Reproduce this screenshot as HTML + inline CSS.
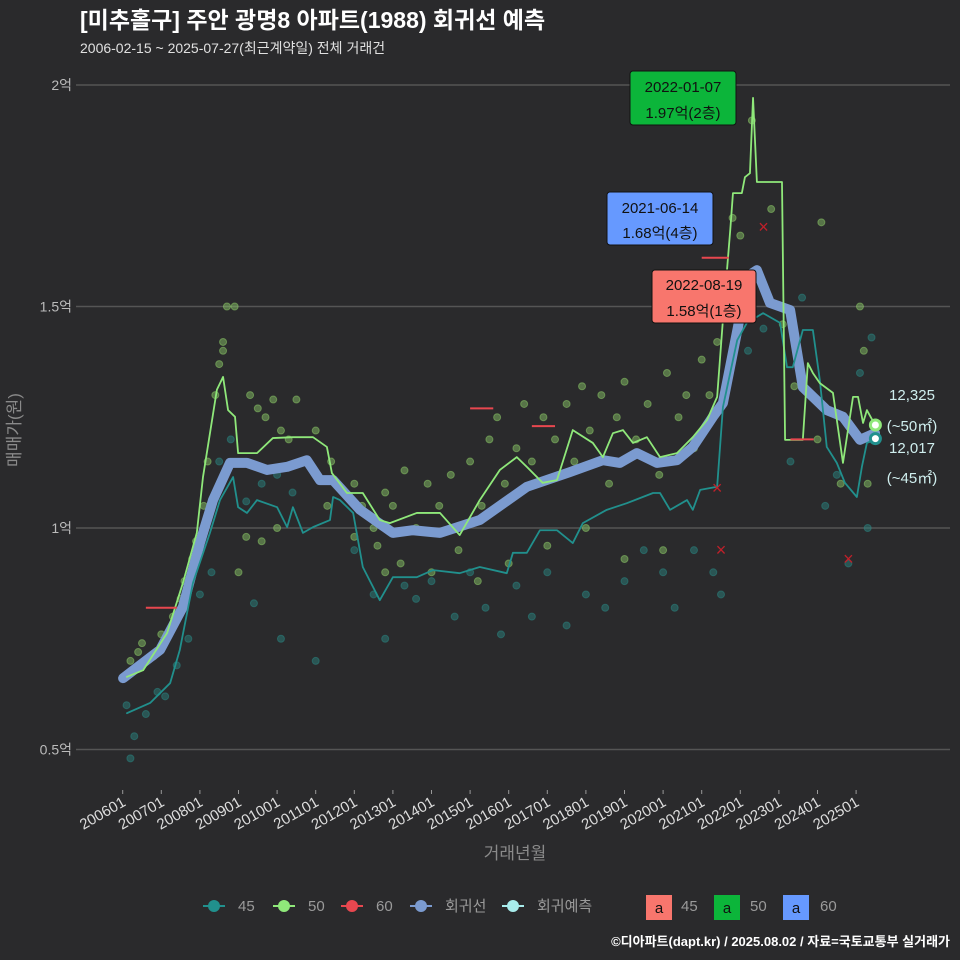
<!DOCTYPE html>
<html><head><meta charset="utf-8">
<style>
html,body{margin:0;padding:0;background:#2a2a2c;overflow:hidden;width:960px;height:960px;}
svg{display:block;}
svg text{font-family:"Liberation Sans","Noto Sans CJK KR",sans-serif;}
</style></head>
<body>
<svg id="chart" width="960" height="960" viewBox="0 0 960 960" xmlns="http://www.w3.org/2000/svg">
<rect width="960" height="960" fill="#2a2a2c"/>
<text x="80" y="28" fill="#ffffff" font-size="23" font-weight="bold">[미추홀구] 주안 광명8 아파트(1988) 회귀선 예측</text>
<text x="80" y="53" fill="#e0e0e0" font-size="14">2006-02-15 ~ 2025-07-27(최근계약일) 전체 거래건</text>
<g id="grid"></g>
<g id="xaxis"></g>
<g id="marks"></g>
<text x="20" y="430" fill="#8a8a8a" font-size="17" transform="rotate(-90 20 430)" text-anchor="middle">매매가(원)</text>
<text x="515" y="859" fill="#8a8a8a" font-size="17" text-anchor="middle">거래년월</text>

<g>
<rect x="630" y="71" width="106" height="54" rx="3" fill="#0cb53a" stroke="#111"/>
<text x="683" y="92" font-size="15" text-anchor="middle" fill="#111">2022-01-07</text>
<text x="683" y="118" font-size="15" text-anchor="middle" fill="#111">1.97억(2층)</text>
</g>
<g>
<rect x="607" y="192" width="106" height="53" rx="3" fill="#6699ff" stroke="#111"/>
<text x="660" y="213" font-size="15" text-anchor="middle" fill="#111">2021-06-14</text>
<text x="660" y="238" font-size="15" text-anchor="middle" fill="#111">1.68억(4층)</text>
</g>
<g>
<rect x="652" y="270" width="104" height="53" rx="3" fill="#f8766d" stroke="#111"/>
<text x="704" y="290" font-size="15" text-anchor="middle" fill="#111">2022-08-19</text>
<text x="704" y="316" font-size="15" text-anchor="middle" fill="#111">1.58억(1층)</text>
</g>
<g fill="#cfeeee" font-size="15" text-anchor="middle">
<text x="912" y="400">12,325</text>
<text x="912" y="431">(~50㎡)</text>
<text x="912" y="453">12,017</text>
<text x="912" y="483">(~45㎡)</text>
</g>

<g font-size="15" fill="#9a9a9a">
<g><line x1="203" y1="906" x2="225" y2="906" stroke="#21908d" stroke-width="2"/><circle cx="214" cy="906" r="6" fill="#21908d"/><text x="238" y="911">45</text></g>
<g><line x1="273" y1="906" x2="295" y2="906" stroke="#8fe87a" stroke-width="2"/><circle cx="284" cy="906" r="6" fill="#8fe87a"/><text x="308" y="911">50</text></g>
<g><line x1="341" y1="906" x2="363" y2="906" stroke="#e8474f" stroke-width="2"/><circle cx="352" cy="906" r="6" fill="#e8474f"/><text x="376" y="911">60</text></g>
<g><line x1="410" y1="906" x2="432" y2="906" stroke="#7b9bd0" stroke-width="2"/><circle cx="421" cy="906" r="6" fill="#7b9bd0"/><text x="445" y="911">회귀선</text></g>
<g><line x1="502" y1="906" x2="524" y2="906" stroke="#a8ecec" stroke-width="2"/><circle cx="513" cy="906" r="6" fill="#a8ecec"/><text x="537" y="911">회귀예측</text></g>
<g><rect x="646" y="895" width="26" height="25" fill="#f8766d"/><text x="659" y="913" fill="#111" text-anchor="middle">a</text><text x="681" y="911">45</text></g>
<g><rect x="714" y="895" width="26" height="25" fill="#0cb53a"/><text x="727" y="913" fill="#111" text-anchor="middle">a</text><text x="750" y="911">50</text></g>
<g><rect x="783" y="895" width="26" height="25" fill="#6699ff"/><text x="796" y="913" fill="#111" text-anchor="middle">a</text><text x="820" y="911">60</text></g>
</g>
<text x="950" y="946" fill="#ffffff" font-size="13" font-weight="bold" text-anchor="end">©디아파트(dapt.kr) / 2025.08.02 / 자료=국토교통부 실거래가</text>
</svg>
<script>
// ---- data ----
const yTicks = [0.5, 1, 1.5, 2];
const yTickLabels = ["0.5억", "1억", "1.5억", "2억"];
const xTickYears = [2006,2007,2008,2009,2010,2011,2012,2013,2014,2015,2016,2017,2018,2019,2020,2021,2022,2023,2024,2025];
const xTickLabels = ["200601","200701","200801","200901","201001","201101","201201","201301","201401","201501","201601","201701","201801","201901","202001","202101","202201","202301","202401","202501"];

const line50X = [2006.11,2006.53,2007.15,2007.56,2007.92,2008.08,2008.44,2008.60,2008.73,2008.91,2008.99,2009.22,2009.48,2009.89,2010.41,2010.93,2011.29,2011.42,2011.81,2012.22,2012.66,2012.92,2013.62,2014.22,2014.73,2015.25,2015.77,2016.21,2016.47,2016.88,2017.25,2017.66,2018.18,2018.44,2018.70,2018.96,2019.22,2019.58,2019.92,2020.36,2020.77,2021.14,2021.40,2021.55,2021.74,2021.81,2022.04,2022.12,2022.25,2022.33,2022.43,2023.08,2023.16,2023.62,2023.75,2023.88,2024.06,2024.40,2024.66,2024.92,2025.05,2025.18,2025.28,2025.49];
const line50Y = [0.664,0.679,0.763,0.876,0.989,1.115,1.312,1.341,1.266,1.251,1.169,1.169,1.169,1.203,1.205,1.205,1.183,1.124,1.079,1.079,1.018,1.011,1.034,1.034,0.984,1.063,1.131,1.160,1.138,1.102,1.108,1.221,1.192,1.160,1.214,1.221,1.192,1.205,1.160,1.169,1.205,1.244,1.296,1.470,1.673,1.756,1.756,1.792,1.801,1.971,1.781,1.781,1.199,1.199,1.372,1.350,1.327,1.305,1.147,1.296,1.296,1.237,1.266,1.233];

const line45X = [2006.11,2006.71,2007.23,2007.48,2007.82,2008.26,2008.52,2008.86,2008.99,2009.22,2009.48,2010.00,2010.26,2010.41,2010.67,2010.93,2011.37,2011.45,2011.63,2011.97,2012.22,2012.66,2013.00,2013.62,2014.04,2014.73,2015.25,2015.95,2016.11,2016.47,2016.81,2017.25,2017.66,2017.92,2018.54,2019.06,2019.74,2019.92,2020.18,2020.62,2020.77,2020.96,2021.40,2021.55,2021.92,2022.17,2022.59,2023.03,2023.21,2023.36,2023.62,2023.88,2024.06,2024.24,2024.50,2024.71,2025.02,2025.15,2025.28,2025.49];
const line45Y = [0.582,0.605,0.650,0.725,0.876,0.989,1.063,1.115,1.047,1.034,1.063,1.047,1.002,1.047,0.989,1.002,1.018,1.070,1.063,1.034,0.912,0.837,0.889,0.889,0.905,0.898,0.912,0.898,0.944,0.944,0.995,0.995,0.966,1.011,1.041,1.056,1.079,1.079,1.041,1.063,1.041,1.086,1.093,1.273,1.424,1.463,1.485,1.463,1.363,1.363,1.447,1.447,1.334,1.183,1.147,1.102,1.070,1.138,1.192,1.199];

const regX = [2006.01,2006.97,2007.56,2008.00,2008.34,2008.78,2009.22,2009.74,2010.26,2010.77,2011.11,2011.45,2012.15,2013.00,2013.52,2014.22,2015.25,2016.47,2017.58,2018.44,2018.88,2019.32,2019.84,2020.36,2020.77,2021.29,2021.55,2021.94,2022.17,2022.43,2022.77,2023.29,2023.62,2024.24,2024.66,2025.10,2025.49];
const regY = [0.661,0.725,0.822,0.966,1.063,1.147,1.147,1.131,1.138,1.153,1.108,1.108,1.041,0.989,0.995,0.989,1.018,1.093,1.126,1.153,1.147,1.169,1.147,1.153,1.183,1.251,1.282,1.454,1.567,1.582,1.508,1.492,1.318,1.266,1.251,1.199,1.214];

const pts50X = [2006.2,2006.4,2006.5,2006.8,2007.0,2007.3,2007.5,2007.6,2007.8,2007.9,2008.1,2008.2,2008.4,2008.5,2008.6,2008.7,2008.9,2008.6,2009.3,2009.5,2009.7,2009.9,2010.1,2010.3,2010.5,2011.0,2011.3,2011.4,2012.0,2012.2,2012.5,2012.8,2013.0,2013.3,2013.6,2013.9,2014.2,2014.5,2014.7,2015.0,2015.3,2015.5,2015.7,2015.9,2016.2,2016.4,2016.6,2016.9,2017.2,2017.5,2017.7,2017.9,2018.1,2018.4,2018.6,2018.8,2019.0,2019.3,2019.6,2019.9,2020.1,2020.4,2020.6,2020.8,2021.0,2021.2,2021.4,2021.6,2021.8,2022.0,2022.3,2022.8,2023.1,2023.4,2024.0,2024.1,2024.6,2025.1,2025.3,2025.2,2012.0,2009.2,2009.6,2010.0,2012.6,2013.2,2014.0,2015.2,2016.0,2017.0,2018.0,2019.0,2020.0,2009.0,2012.8];
const pts50Y = [0.70,0.72,0.74,0.71,0.76,0.80,0.84,0.88,0.93,0.97,1.05,1.15,1.30,1.37,1.42,1.50,1.50,1.40,1.30,1.27,1.25,1.29,1.22,1.20,1.29,1.22,1.05,1.15,1.10,1.05,1.00,1.08,1.05,1.13,1.00,1.10,1.05,1.12,0.95,1.15,1.05,1.20,1.25,1.10,1.18,1.28,1.15,1.25,1.20,1.28,1.15,1.32,1.22,1.30,1.10,1.25,1.33,1.20,1.28,1.12,1.35,1.25,1.30,1.18,1.38,1.30,1.42,1.55,1.70,1.66,1.92,1.72,1.46,1.32,1.20,1.69,1.10,1.50,1.10,1.40,0.98,0.98,0.97,1.00,0.96,0.92,0.90,0.88,0.92,0.96,1.00,0.93,0.95,0.90,0.90];

const pts45X = [2006.1,2006.3,2006.2,2006.6,2006.9,2007.1,2007.4,2007.7,2008.0,2008.3,2008.5,2008.8,2009.2,2009.6,2010.0,2010.4,2009.4,2010.1,2011.0,2011.5,2012.0,2012.5,2012.8,2013.3,2013.6,2014.0,2014.6,2015.0,2015.4,2015.8,2016.2,2016.6,2017.0,2017.5,2018.0,2018.5,2019.0,2019.5,2020.0,2020.3,2020.8,2021.3,2021.5,2022.2,2022.6,2023.3,2023.6,2024.2,2024.5,2024.8,2025.3,2025.1,2025.4];
const pts45Y = [0.60,0.53,0.48,0.58,0.63,0.62,0.69,0.75,0.85,0.90,1.15,1.20,1.06,1.10,1.12,1.08,0.83,0.75,0.70,1.10,0.95,0.85,0.75,0.87,0.84,0.88,0.80,0.90,0.82,0.76,0.87,0.80,0.90,0.78,0.85,0.82,0.88,0.95,0.90,0.82,0.95,0.90,0.85,1.40,1.45,1.15,1.52,1.05,1.12,0.92,1.00,1.35,1.43];

const seg60Start = [2006.6,2015.0,2016.6,2021.0,2023.3];
const seg60End = [2007.4,2015.6,2017.2,2021.7,2023.9];
const seg60Val = [0.82,1.27,1.23,1.61,1.20];
const cross60X = [2022.6,2021.5,2024.8,2021.4];
const cross60Y = [1.68,0.95,0.93,1.09];

const forecastX = [2025.5,2025.5];
const forecastY = [1.2325,1.2017];
const forecastColor = ["#8fe87a","#21908d"];

// ---- scales ----
const xs = yr => 122.7 + (yr - 2006) * 38.6;
const ys = v => 528 - (v - 1) * 443;
const NS = "http://www.w3.org/2000/svg";
function mk(tag, parent) { const e = document.createElementNS(NS, tag); parent.appendChild(e); return e; }
const grid = document.getElementById('grid');
const xaxis = document.getElementById('xaxis');
const marks = document.getElementById('marks');

yTicks.forEach((t, i) => {
  const l = mk('line', grid);
  
  
  l.setAttribute('x1', 76); l.setAttribute('x2', 950);
  l.setAttribute('y1', ys(t)); l.setAttribute('y2', ys(t));
  l.setAttribute('stroke', '#555'); l.setAttribute('stroke-width', 1.5);
  const tx = mk('text', grid);
  
  
  tx.setAttribute('x', 72); tx.setAttribute('y', ys(t) + 5);
  tx.setAttribute('text-anchor', 'end'); tx.setAttribute('fill', '#bbb'); tx.setAttribute('font-size', 14);
  tx.textContent = yTickLabels[i];
});
xTickYears.forEach((t, i) => {
  const x = xs(t);
  const l = mk('line', xaxis);
  
  
  l.setAttribute('x1', x); l.setAttribute('x2', x); l.setAttribute('y1', 790); l.setAttribute('y2', 794);
  l.setAttribute('stroke', '#999');
  const tx = mk('text', xaxis);
  
  
  tx.setAttribute('x', x + 4); tx.setAttribute('y', 805);
  tx.setAttribute('text-anchor', 'end'); tx.setAttribute('fill', '#ddd'); tx.setAttribute('font-size', 15);
  tx.setAttribute('transform', 'rotate(-30 ' + (x + 4) + ' 805)');
  tx.textContent = xTickLabels[i];
});

function dots(X, Y, color, name) {
  X.forEach((x, i) => {
    const c = mk('circle', marks);
    
    
    c.setAttribute('cx', xs(x)); c.setAttribute('cy', ys(Y[i])); c.setAttribute('r', 3.5);
    c.setAttribute('fill', color); c.setAttribute('fill-opacity', 0.45);
    c.setAttribute('stroke', color); c.setAttribute('stroke-opacity', 0.5);
  });
}
dots(pts45X, pts45Y, '#2a8a86', 'point-45');
dots(pts50X, pts50Y, '#8fcf6a', 'point-50');

function path(X, Y, color, w, name) {
  let d = '';
  X.forEach((x, i) => {
    d += (i === 0 ? 'M' : 'L') + xs(x) + ',' + ys(Y[i]);
  });
  const p = mk('path', marks);
  
  
  p.setAttribute('d', d); p.setAttribute('fill', 'none'); p.setAttribute('stroke', color);
  p.setAttribute('stroke-width', w); p.setAttribute('stroke-linejoin', 'round'); p.setAttribute('stroke-linecap', 'round');
}
path(regX, regY, '#7b9bd0', 10, 'regression-line');
path(line45X, line45Y, '#21908d', 1.8, 'line-45');
path(line50X, line50Y, '#8fe87a', 1.8, 'line-50');

seg60Start.forEach((s, i) => {
  const l = mk('line', marks);
  
  
  l.setAttribute('x1', xs(s)); l.setAttribute('x2', xs(seg60End[i]));
  l.setAttribute('y1', ys(seg60Val[i])); l.setAttribute('y2', ys(seg60Val[i]));
  l.setAttribute('stroke', '#e8474f'); l.setAttribute('stroke-width', 2);
});
cross60X.forEach((x, i) => {
  const t = mk('text', marks);
  
  
  t.setAttribute('x', xs(x)); t.setAttribute('y', ys(cross60Y[i]) + 6);
  t.setAttribute('text-anchor', 'middle'); t.setAttribute('fill', '#c0202a'); t.setAttribute('font-size', 18);
  t.textContent = '×';
});
forecastX.forEach((x, i) => {
  const c = mk('circle', marks);
  
  
  c.setAttribute('cx', xs(x)); c.setAttribute('cy', ys(forecastY[i])); c.setAttribute('r', 5);
  c.setAttribute('fill', '#ffffff'); c.setAttribute('stroke', forecastColor[i]); c.setAttribute('stroke-width', 3);
});
</script>
</body></html>
